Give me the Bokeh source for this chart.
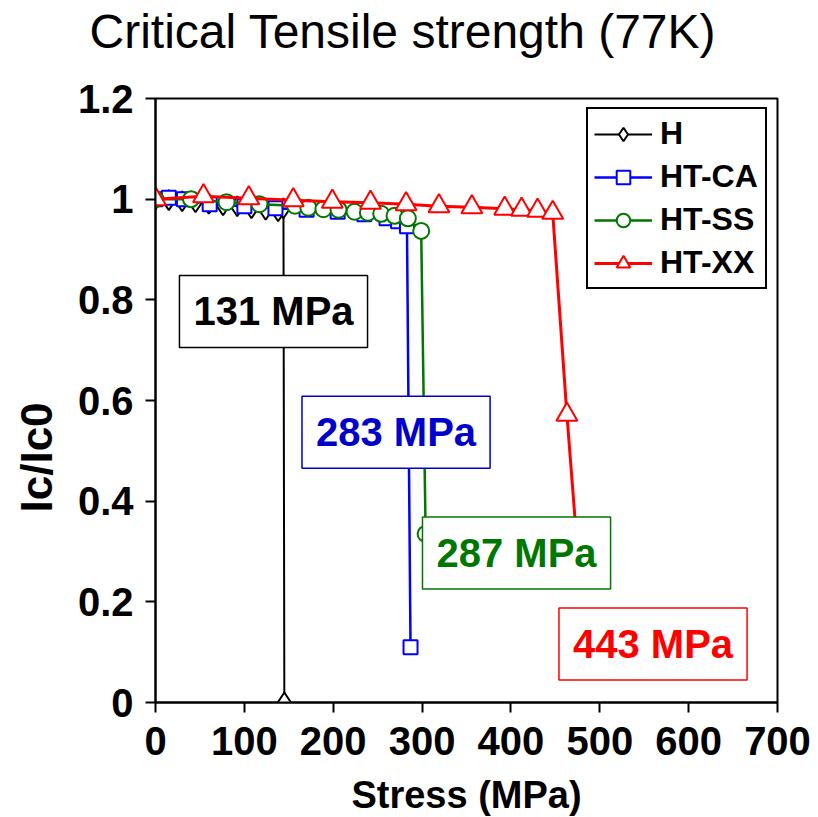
from bokeh.plotting import figure
from bokeh.models import Range1d, FixedTicker, Label, Legend, LegendItem, Title
from bokeh.embed import file_html
from bokeh.resources import INLINE
import numpy as np

# ---- data ----
h_x = [0, 15, 30, 45, 60, 76, 92, 108, 124, 138, 144, 145]
h_y = [1.0, 0.998, 0.996, 0.994, 0.991, 0.988, 0.986, 0.982, 0.979, 0.976, 0.982, 0.0]

ca_x = [0, 15, 32, 61, 100, 135, 170, 205, 235, 260, 273, 283, 287]
ca_y = [1.0, 1.003, 1.0, 0.99, 0.986, 0.982, 0.979, 0.975, 0.97, 0.962, 0.956, 0.946, 0.11]

ss_x = [0, 40, 80, 117, 157, 172, 189, 206, 224, 239, 254, 269, 284, 299, 304]
ss_y = [1.0, 1.0, 0.994, 0.99, 0.987, 0.983, 0.98, 0.979, 0.975, 0.973, 0.971, 0.967, 0.962, 0.937, 0.335]

xx_x = [0, 54, 105, 155, 199, 242, 282, 319, 356, 393, 412, 430, 447, 463, 475]
xx_y = [1.0, 1.006, 1.002, 0.998, 0.995, 0.993, 0.99, 0.986, 0.984, 0.981, 0.979, 0.977, 0.973, 0.572, 0.3]

x_ticks = [0, 100, 200, 300, 400, 500, 600, 700]
y_ticks = [0, 0.2, 0.4, 0.6, 0.8, 1.0, 1.2]
y_tick_labels = ["0", "0.2", "0.4", "0.6", "0.8", "1", "1.2"]

series_names = ["H", "HT-CA", "HT-SS", "HT-XX"]
callout_texts = ["131 MPa", "283 MPa", "287 MPa", "443 MPa"]
callout_x = [132.8, 270.7, 406.3, 559.9]
callout_y = [0.777, 0.537, 0.297, 0.116]
callout_colors = ["black", "#0000CC", "#007700", "#FF0000"]

title_text = "Critical Tensile strength  (77K)"
x_label = "Stress (MPa)"
y_label = "Ic/Ic0"

FONT = "Liberation Sans"

p = figure(width=818, height=817, output_backend="svg", toolbar_location=None,
           x_range=Range1d(0, 700), y_range=Range1d(0, 1.2),
           frame_width=622, frame_height=604,
           min_border_left=154, min_border_right=42, min_border_top=98, min_border_bottom=115)
p.background_fill_color = "white"
p.border_fill_color = "white"
p.outline_line_color = "black"
p.outline_line_width = 2
p.xgrid.visible = False
p.ygrid.visible = False

for ax in (p.xaxis[0], p.yaxis[0]):
    ax.axis_line_color = "black"
    ax.axis_line_width = 2
    ax.major_tick_line_width = 2
    ax.major_tick_line_color = "black"
    ax.major_tick_in = 0
    ax.major_tick_out = 10
    ax.minor_tick_line_color = None
    ax.major_label_text_font = FONT
    ax.major_label_text_font_style = "bold"
    ax.major_label_text_font_size = "40px"
    ax.major_label_text_color = "black"
    ax.axis_label_text_font = FONT
    ax.axis_label_text_font_style = "bold"
    ax.axis_label_text_color = "black"

p.xaxis.ticker = FixedTicker(ticks=x_ticks)
p.yaxis.ticker = FixedTicker(ticks=y_ticks)
p.yaxis.major_label_overrides = {t: l for t, l in zip(y_ticks, y_tick_labels)}
p.xaxis.major_label_standoff = 14
p.yaxis.major_label_standoff = 12
p.xaxis.axis_label = x_label
p.xaxis.axis_label_text_font_size = "38px"
p.xaxis.axis_label_standoff = 16

p.title.text = title_text
p.title.text_font = FONT
p.title.text_font_size = "48px"
p.title.text_font_style = "normal"
p.title.text_color = "black"
p.title.align = "left"
p.title.offset = -66
p.title.standoff = 2
p.title.padding = dict(left=0, right=0, top=0, bottom=40)

# y-axis title (placed a little below the frame centre, as in the original)
ytitle = Title(text=y_label, align="left", offset=190, vertical_align="top", standoff=23,
               text_font=FONT, text_font_style="bold", text_font_size="44px",
               text_color="black")
p.add_layout(ytitle, "left")

items = []
# H
l1 = p.line(h_x, h_y, line_color="black", line_width=2)
s1 = p.scatter(h_x, h_y, marker="diamond", size=20,
               line_color="black", fill_color="white", line_width=2)
items.append(LegendItem(label=series_names[0], renderers=[l1, s1]))
# HT-CA
l2 = p.line(ca_x, ca_y, line_color="#0000FF", line_width=2.5)
s2 = p.scatter(ca_x, ca_y, marker="square", size=14,
               line_color="#0000FF", fill_color="white", line_width=2)
items.append(LegendItem(label=series_names[1], renderers=[l2, s2]))
# HT-SS
l3 = p.line(ss_x, ss_y, line_color="#007700", line_width=2.5)
s3 = p.scatter(ss_x, ss_y, marker="circle", size=16,
               line_color="#007700", fill_color="white", line_width=2)
items.append(LegendItem(label=series_names[2], renderers=[l3, s3]))
# HT-XX
l4 = p.line(xx_x, xx_y, line_color="#FF0000", line_width=3)
s4 = p.scatter(xx_x, xx_y, marker="triangle", size=21,
               line_color="#FF0000", fill_color="white", line_width=2)
items.append(LegendItem(label=series_names[3], renderers=[l4, s4]))

legend = Legend(items=items, location=(431, 413))
legend.label_text_font = FONT
legend.label_text_font_style = "bold"
legend.label_text_font_size = "32px"
legend.label_text_color = "black"
legend.glyph_width = 58
legend.glyph_height = 34
legend.label_standoff = 8
legend.label_width = 99
legend.spacing = 6
legend.padding = 6
legend.margin = 0
legend.border_line_color = "black"
legend.border_line_alpha = 1
legend.border_line_width = 2
legend.background_fill_color = "white"
legend.background_fill_alpha = 1
p.add_layout(legend)

for t, cx, cy, c in zip(callout_texts, callout_x, callout_y, callout_colors):
    p.add_layout(Label(x=cx, y=cy, text=t, text_align="center", text_baseline="middle",
                       text_font=FONT, text_font_style="bold", text_font_size="40px",
                       text_color=c, border_line_color=c, border_line_width=1.5,
                       background_fill_color="white", background_fill_alpha=1,
                       padding=14))

open("out.html", "w").write(file_html(p, INLINE))
